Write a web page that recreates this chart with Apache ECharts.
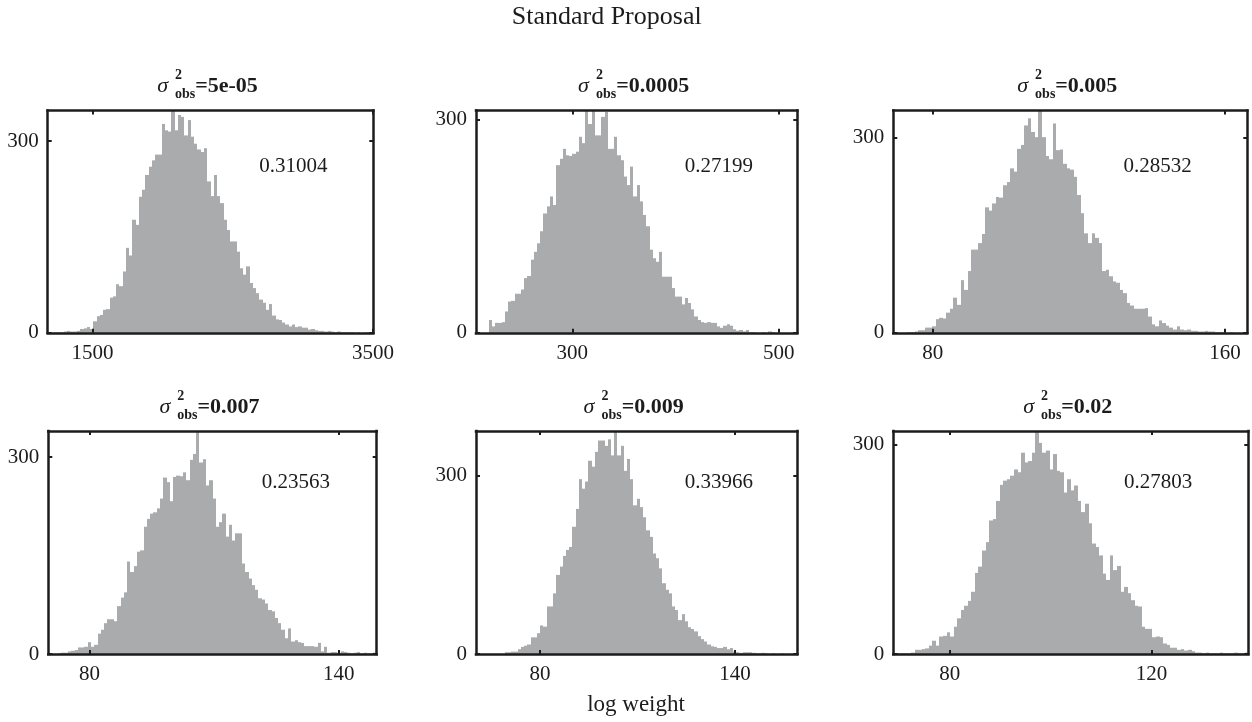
<!DOCTYPE html>
<html>
<head>
<meta charset="utf-8">
<title>Standard Proposal</title>
<script src="https://cdn.jsdelivr.net/npm/echarts@6.0.0/dist/echarts.min.js"></script>
<style>
  html, body { margin: 0; padding: 0; background: #fff; }
  #grafico { width: 1252px; height: 722px; }
</style>
</head>
<body>
<div id="grafico"></div>
<script>
// subplot labels
var sigmaLabels = ['5e-05', '0.0005', '0.005', '0.007', '0.009', '0.02'];
var essValues = ['0.31004', '0.27199', '0.28532', '0.23563', '0.33966', '0.27803'];

// x range covered by the 100 bins of each histogram
var binRange1 = [1181, 3503];
var binRange2 = [206.7, 517.9];
var binRange3 = [69.2, 166.1];
var binRange4 = [70.1, 149.1];
var binRange5 = [60.3, 159.2];
var binRange6 = [68.8, 139.2];

// tick labels
var xTicks1 = [1500, 3500];
var xTicks2 = [300, 500];
var xTicks3 = [80, 160];
var xTicks4 = [80, 140];
var xTicks5 = [80, 140];
var xTicks6 = [80, 120];
var yTicks = [0, 300];
var yMaxes = [348, 313, 342, 340, 375, 319];

// bin counts
var counts1 = [0,0,1,1,1,2,3,2,2,3, 6,7,9,6,18,26,28,36,37,55, 57,76,73,96,133,121,177,169,213,224,
  247,260,270,279,279,327,317,315,348,317, 341,338,309,333,307,296,287,283,289,237,
  214,247,214,203,177,161,143,143,127,101, 91,104,78,70,62,52,47,36,45,27,
  21,20,16,13,10,13,9,10,8,8, 5,6,4,3,3,2,3,2,1,2, 1,1,1,1,0,1,0,1,1,0];
var counts2 = [0,0,0,0,18,9,14,14,15,30, 44,45,55,55,61,77,80,103,114,126,
  143,168,178,192,180,236,245,259,250,249, 252,255,276,267,313,294,313,278,278,304,
  311,259,259,276,250,243,220,208,234,192, 208,185,166,150,117,105,100,114,79,79,
  79,63,51,51,40,49,42,33,23,18, 15,14,15,14,14,9,7,10,12,10,
  5,3,4,2,4,1,1,0,0,1, 0,2,1,0,0,0,0,0,0,0];
var counts3 = [0,0,0,0,1,1,2,4,4,8, 8,10,21,23,22,31,37,54,43,81,
  66,95,128,128,138,152,193,188,199,209, 208,227,232,253,248,283,289,319,330,309,
  301,342,301,272,267,322,281,282,260,253, 251,240,212,184,153,138,153,146,138,95,
  97,87,79,77,66,61,46,42,37,37, 37,38,25,13,10,19,15,11,8,5,
  10,5,4,5,3,3,2,2,3,2, 2,1,1,1,0,1,0,0,0,1];
var counts4 = [0,0,0,1,2,2,4,5,6,10, 10,11,18,11,14,31,37,47,53,53,
  50,73,86,94,141,125,134,156,158,194, 206,214,216,222,237,269,262,233,270,272,
  271,277,265,296,305,340,292,297,257,265, 237,194,201,214,179,197,173,184,184,138,
  125,115,105,98,85,83,77,67,65,55, 47,37,24,39,19,21,18,17,12,12,
  12,11,17,4,11,2,3,3,2,4, 3,2,1,2,3,1,2,1,1,2];
var counts5 = [0,0,0,0,0,0,0,0,0,3, 3,4,4,8,12,14,16,28,28,35,
  48,46,80,80,102,133,147,165,175,180, 214,244,294,278,290,325,315,340,359,359,
  350,361,334,375,334,350,308,328,294,250, 261,247,230,208,197,169,161,144,119,108,
  102,80,74,57,67,55,45,42,38,30, 25,21,16,13,12,10,10,12,8,10,
  4,3,2,3,3,3,2,1,1,2, 1,0,1,0,0,1,0,0,0,0];
var counts6 = [1,1,1,1,1,2,6,6,7,8, 12,19,12,25,26,31,25,39,51,63,
  69,76,89,116,125,148,160,191,193,219, 242,248,250,255,264,260,288,274,276,288,
  319,302,288,291,264,286,262,260,231,250, 234,241,219,203,215,187,158,153,141,115,
  106,141,120,126,89,96,87,77,69,68, 39,36,36,24,25,24,15,13,9,9,
  6,7,5,6,4,2,2,1,2,1, 1,1,2,1,1,1,2,1,1,2];

var panels = [
  {counts: counts1, range: binRange1, ticks: xTicks1},
  {counts: counts2, range: binRange2, ticks: xTicks2},
  {counts: counts3, range: binRange3, ticks: xTicks3},
  {counts: counts4, range: binRange4, ticks: xTicks4},
  {counts: counts5, range: binRange5, ticks: xTicks5},
  {counts: counts6, range: binRange6, ticks: xTicks6}
];

// plot boxes in pixels: left, top, width, height
var boxes = [
  [47.7, 110.5, 325.6, 222.3],
  [476, 110.5, 321.3, 222.3],
  [893.3, 110.5, 354, 222.3],
  [48.3, 431, 328.4, 223],
  [476, 431, 321.3, 223],
  [893.3, 431, 355, 223]
];

var serif = '"Liberation Serif", "Times New Roman", serif';
var barColor = '#aaabad';
var ink = '#1c1c1c';

var chartDom = document.getElementById('grafico');
var myChart = echarts.init(chartDom);

var measureCtx = document.createElement('canvas').getContext('2d');
function textWidth(font, text) {
  measureCtx.font = font;
  return measureCtx.measureText(text).width;
}

function histBins(counts, range) {
  var w = (range[1] - range[0]) / counts.length;
  return counts.map(function (c, i) {
    return [range[0] + i * w, range[0] + (i + 1) * w, c];
  });
}

function renderBin(params, api) {
  var count = api.value(2);
  if (!count) return null;
  var topLeft = api.coord([api.value(0), count]);
  var bottomRight = api.coord([api.value(1), 0]);
  var x0 = Math.round(topLeft[0]);
  var x1 = Math.round(bottomRight[0]);
  return {
    type: 'rect',
    shape: {x: x0, y: topLeft[1], width: x1 - x0, height: bottomRight[1] - topLeft[1]},
    style: {fill: barColor}
  };
}

var boxLine = {show: true, onZero: false, lineStyle: {color: ink, width: 2.5, cap: 'square'}};
var tickStyle = {inside: true, length: 4, lineStyle: {color: ink, width: 2}};
var labelFont = {fontFamily: serif, fontSize: 21, color: ink};

function panelTitle(i) {
  var b = boxes[i];
  var cx = b[0] + b[2] / 2 - 3;
  var top = b[1];
  var fMain = 'bold 22px ' + serif;
  var fSig = 'italic 22px ' + serif;
  var fSmall = 'bold 14px ' + serif;
  var val = '=' + sigmaLabels[i];
  var wSig = textWidth(fSig, '\u03c3');
  var wSmall = Math.max(textWidth(fSmall, '2'), textWidth(fSmall, 'obs'));
  var gap = 7;
  var total = wSig + gap + wSmall + textWidth(fMain, val);
  var x = cx - total / 2;
  return [
    {type: 'text', x: x, y: top - 24, style: {text: '\u03c3', font: fSig, fill: ink, verticalAlign: 'middle'}},
    {type: 'text', x: x + wSig + gap, y: top - 35, style: {text: '2', font: fSmall, fill: ink, verticalAlign: 'middle'}},
    {type: 'text', x: x + wSig + gap, y: top - 16, style: {text: 'obs', font: fSmall, fill: ink, verticalAlign: 'middle'}},
    {type: 'text', x: x + wSig + gap + wSmall, y: top - 24, style: {text: val, font: fMain, fill: ink, verticalAlign: 'middle'}}
  ];
}

var grids = [], xAxes = [], yAxes = [], series = [], graphics = [];

panels.forEach(function (p, i) {
  var b = boxes[i];
  grids.push({left: b[0], top: b[1], width: b[2], height: b[3], show: false, outerBoundsMode: 'none'});

  xAxes.push({
    type: 'value', gridIndex: i, position: 'bottom', min: p.range[0], max: p.range[1], z: 5,
    axisLine: boxLine, splitLine: {show: false},
    axisTick: Object.assign({customValues: p.ticks}, tickStyle),
    axisLabel: Object.assign({customValues: p.ticks, margin: 10, formatter: function (v) { return String(v); }}, labelFont)
  });
  xAxes.push({
    type: 'value', gridIndex: i, position: 'top', min: p.range[0], max: p.range[1], z: 5,
    axisLine: boxLine, splitLine: {show: false},
    axisTick: Object.assign({customValues: p.ticks}, tickStyle),
    axisLabel: {show: false}
  });
  yAxes.push({
    type: 'value', gridIndex: i, position: 'left', min: 0, max: yMaxes[i], z: 5,
    axisLine: boxLine, splitLine: {show: false},
    axisTick: Object.assign({customValues: yTicks}, tickStyle),
    axisLabel: Object.assign({customValues: yTicks, margin: 9}, labelFont)
  });
  yAxes.push({
    type: 'value', gridIndex: i, position: 'right', min: 0, max: yMaxes[i], z: 5,
    axisLine: boxLine, splitLine: {show: false},
    axisTick: Object.assign({customValues: yTicks}, tickStyle),
    axisLabel: {show: false}
  });

  series.push({
    type: 'custom',
    xAxisIndex: 2 * i,
    yAxisIndex: 2 * i,
    renderItem: renderBin,
    encode: {x: [0, 1], y: 2},
    data: histBins(p.counts, p.range),
    silent: true
  });

  graphics = graphics.concat(panelTitle(i));
  graphics.push({
    type: 'text',
    x: b[0] + b[2] * 0.65,
    y: b[1] + (i < 3 ? 56 : 51),
    style: {text: essValues[i], font: '21px ' + serif, fill: ink, verticalAlign: 'middle'}
  });
});

graphics.push({
  type: 'text', x: 606.7, y: 17,
  style: {text: 'Standard Proposal', font: '26px ' + serif, fill: ink, align: 'center', verticalAlign: 'middle'}
});
graphics.push({
  type: 'text', x: 636, y: 705,
  style: {text: 'log weight', font: '23px ' + serif, fill: ink, align: 'center', verticalAlign: 'middle'}
});

var option = {
  backgroundColor: '#fff',
  animation: false,
  grid: grids,
  xAxis: xAxes,
  yAxis: yAxes,
  series: series,
  graphic: graphics
};

option && myChart.setOption(option);
</script>
</body>
</html>
